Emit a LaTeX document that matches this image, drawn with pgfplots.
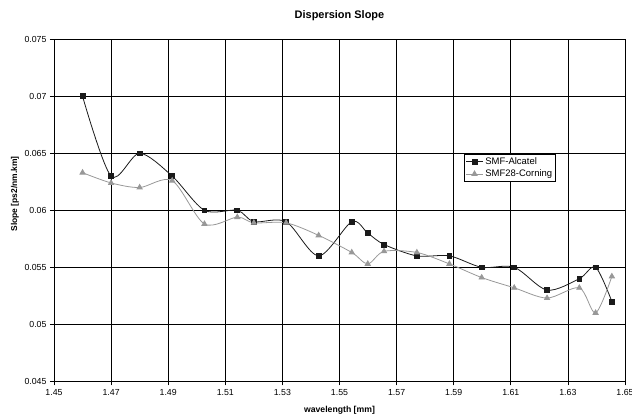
\documentclass[border=0pt]{standalone}
\usepackage{pgfplots}
\pgfplotsset{compat=1.18}
\usepackage{pgfplotstable}
\usepackage{fontspec}
\setmainfont{Liberation Sans}
\definecolor{alc}{HTML}{1A1A1A}
\definecolor{cor}{HTML}{989898}
\pgfplotstableread{
x y
1.4600 0.0700
1.4700 0.0630
1.4800 0.0650
1.4914 0.0630
1.5027 0.0600
1.5142 0.0600
1.5200 0.0590
1.5313 0.0590
1.5427 0.0560
1.5543 0.0590
1.5599 0.0580
1.5656 0.0570
1.5771 0.0560
1.5885 0.0560
1.5998 0.0550
1.6112 0.0550
1.6227 0.0530
1.6340 0.0540
1.6397 0.0550
1.6454 0.0520
}\alcatel
\pgfplotstableread{
x y
1.4600 0.0633
1.4700 0.0624
1.4800 0.0620
1.4914 0.0626
1.5027 0.0588
1.5142 0.0594
1.5200 0.0589
1.5313 0.0589
1.5427 0.0578
1.5543 0.0563
1.5599 0.0553
1.5656 0.0564
1.5771 0.0563
1.5885 0.0553
1.5998 0.0541
1.6112 0.0532
1.6227 0.0523
1.6340 0.0532
1.6397 0.0510
1.6454 0.0542
}\corning
\begin{document}
\begin{tikzpicture}
\begin{axis}[
  scale only axis,
  width=571bp, height=342bp,
  xmin=1.45, xmax=1.65, ymin=0.045, ymax=0.075,
  scaled x ticks=false, scaled y ticks=false,
  /pgf/number format/assume math mode=true,
  xtick={1.45,1.47,1.49,1.51,1.53,1.55,1.57,1.59,1.61,1.63,1.65},
  xticklabels={1.45,1.47,1.49,1.51,1.53,1.55,1.57,1.59,1.61,1.63,1.65},
  ytick={0.045,0.05,0.055,0.06,0.065,0.07,0.075},
  yticklabels={0.045,0.05,0.055,0.06,0.065,0.07,0.075},
  grid=major,
  major grid style={black, line width=0.8pt},
  axis line style={black, line width=0.8pt},
  tick align=outside,
  xtick pos=bottom, ytick pos=left,
  major tick length=4bp,
  tick style={black, line width=0.8pt},
  ticklabel style={font=\fontsize{8.8}{10}\selectfont},
  xticklabel style={yshift=-1bp},
  xlabel={\textbf{wavelength [mm]}},
  xlabel style={font=\fontsize{8.7}{10}\selectfont, at={(axis description cs:0.5,-0.0839)}, anchor=center},
  ylabel={\textbf{Slope [ps2/nm.km]}},
  ylabel style={font=\fontsize{8.5}{10}\selectfont, at={(axis description cs:-0.0683,0.5477)}, anchor=center, rotate=0},
  legend style={at={(axis description cs:0.7186,0.664)}, anchor=north west,
    draw=black, line width=0.6pt, fill=white, font=\fontsize{9.5}{10}\selectfont,
    inner sep=1pt, row sep=0pt, cells={anchor=west}},
  legend cell align=left,
]
\addplot[alc, line width=0.8pt, smooth, tension=0.5, mark=square*, mark size=2.4bp, mark options={solid, fill=alc, draw=alc}]
  table[x=x,y=y]{\alcatel};
\addlegendentry{SMF-Alcatel}
\addplot[cor, line width=0.8pt, smooth, tension=0.5, mark=triangle*, mark size=3bp, mark options={solid, fill=cor, draw=cor}]
  table[x=x,y=y]{\corning};
\addlegendentry{SMF28-Corning}
\end{axis}
\node[font=\fontsize{11}{12}\selectfont, anchor=center] at ([yshift=23.5bp]current axis.north) {\textbf{Dispersion Slope}};
\pgfresetboundingbox
\path ([shift={(-54bp,-38.7bp)}]current axis.south west) rectangle ([shift={(7bp,39.3bp)}]current axis.north east);
\end{tikzpicture}
\end{document}
